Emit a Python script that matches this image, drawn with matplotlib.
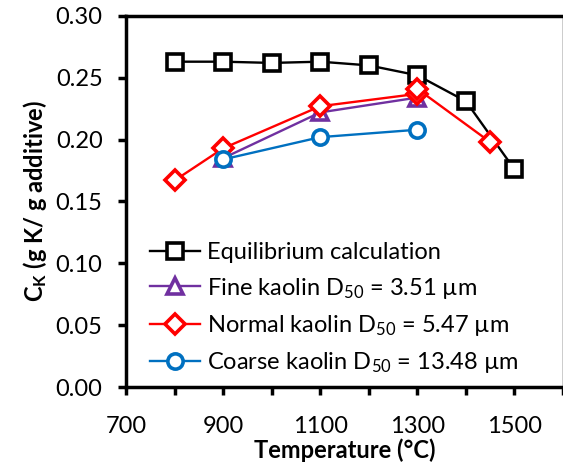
import matplotlib
matplotlib.use("Agg")
import matplotlib.pyplot as plt

# values
eq_temp = [800, 900, 1000, 1100, 1200, 1300, 1400, 1500]
eq_ck = [0.263, 0.263, 0.262, 0.263, 0.260, 0.252, 0.231, 0.176]

fine_temp = [900, 1100, 1300]
fine_ck = [0.185, 0.222, 0.234]

normal_temp = [800, 900, 1100, 1300, 1300, 1450]
normal_ck = [0.167, 0.193, 0.227, 0.237, 0.241, 0.198]

coarse_temp = [900, 1100, 1300]
coarse_ck = [0.184, 0.202, 0.208]

x_ticks = [700, 900, 1100, 1300, 1500]
y_ticks = [0.00, 0.05, 0.10, 0.15, 0.20, 0.25, 0.30]


def main():
    plt.rcParams['font.family'] = ['Lato', 'DejaVu Sans']
    plt.rcParams['mathtext.default'] = 'regular'

    fig = plt.figure(figsize=(5.63, 4.68), dpi=100)
    ax = fig.add_axes([0.224, 0.173, 0.776, 0.793])

    style = dict(markersize=11, markeredgewidth=2.6, linewidth=1.7,
                 markerfacecolor='white')
    ax.plot(eq_temp, eq_ck, color='black', marker='s',
            label='Equilibrium calculation', **style)
    ax.plot(fine_temp, fine_ck, color='#7030A0', marker='^',
            label='Fine kaolin D$_{50}$ = 3.51 µm', **style)
    ax.plot(normal_temp, normal_ck, color='#FF0000', marker='D',
            markersize=10, markeredgewidth=2.6, linewidth=1.7,
            markerfacecolor='white',
            label='Normal kaolin D$_{50}$ = 5.47 µm')
    ax.plot(coarse_temp, coarse_ck, color='#0070C0', marker='o',
            label='Coarse kaolin D$_{50}$ = 13.48 µm', **style)

    ax.set_xlim(700, 1600)
    ax.set_ylim(0, 0.30)
    ax.set_xticks(x_ticks)
    ax.set_xticks(range(700, 1601, 100), minor=True)
    ax.set_yticks(y_ticks)
    ax.set_yticklabels(["%.2f" % v for v in y_ticks])

    ax.tick_params(axis='both', which='both', direction='out', width=2.5,
                   labelsize=17, length=6)
    ax.tick_params(axis='x', which='major', pad=15)
    ax.tick_params(axis='y', pad=11)

    for side in ['left', 'bottom', 'top']:
        ax.spines[side].set_linewidth(2.5)
    ax.spines['right'].set_linewidth(1.0)

    ax.set_xlabel('Temperature (°C)', fontsize=17, fontweight='bold',
                  labelpad=1)
    ax.set_ylabel('C$_K$ (g K/ g additive)', fontsize=17, fontweight='bold',
                  labelpad=5)

    ax.legend(loc='lower left', bbox_to_anchor=(0.028, 0.0), frameon=False,
              fontsize=17, handlelength=2.1, handletextpad=0.3,
              labelspacing=0.52, borderaxespad=0.1)

    fig.savefig('out.png', dpi=100)


if __name__ == "__main__":
    main()
